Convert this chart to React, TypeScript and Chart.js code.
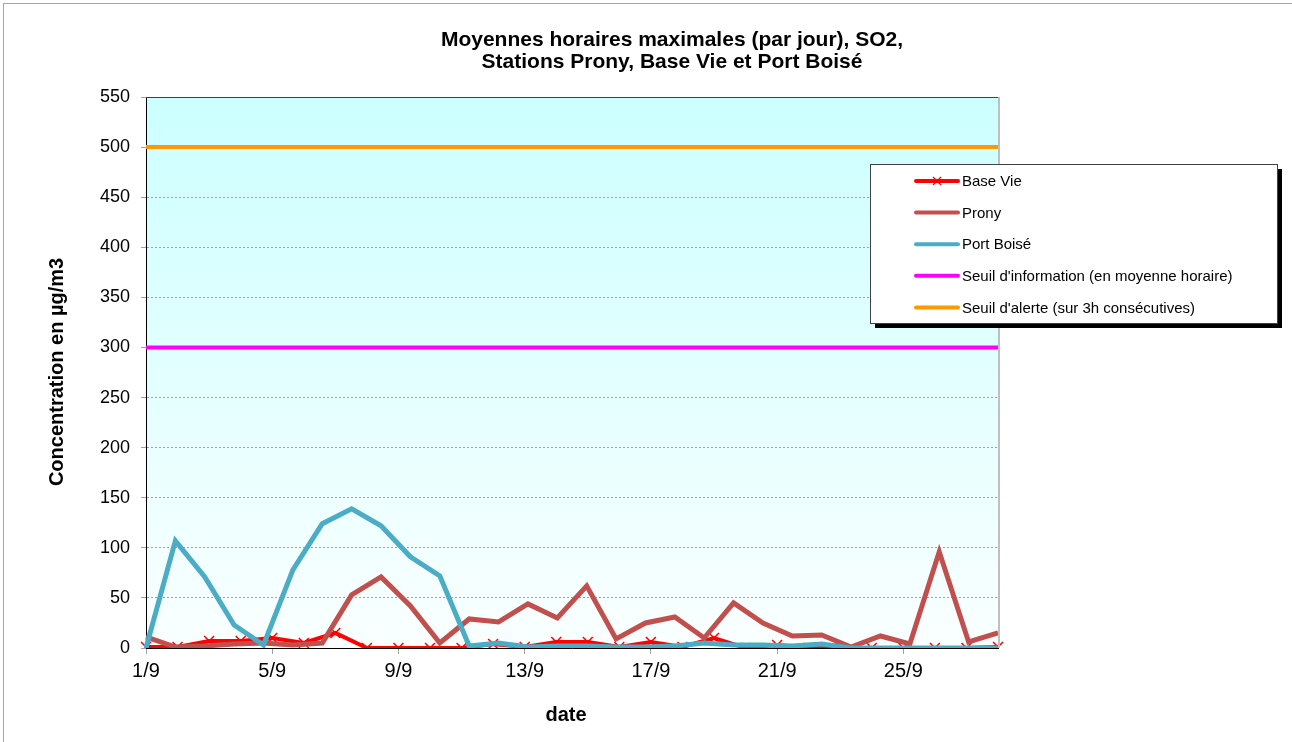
import React, { useEffect, useRef } from "react";
import { Chart, registerables } from "chart.js";

Chart.register(...registerables);

const dates = [
  "1/9", "2/9", "3/9", "4/9", "5/9", "6/9", "7/9", "8/9", "9/9", "10/9",
  "11/9", "12/9", "13/9", "14/9", "15/9", "16/9", "17/9", "18/9", "19/9", "20/9",
  "21/9", "22/9", "23/9", "24/9", "25/9", "26/9", "27/9", "28/9",
];
const dates30 = [
  "1/9", "2/9", "3/9", "4/9", "5/9", "6/9", "7/9", "8/9", "9/9", "10/9",
  "11/9", "12/9", "13/9", "14/9", "15/9", "16/9", "17/9", "18/9", "19/9", "20/9",
  "21/9", "22/9", "23/9", "24/9", "25/9", "26/9", "27/9", "28/9", "29/9", "30/9",
];

const baseVie = [1, 1, 7, 7, 10, 5, 15, 0, 0, 0, 0, 4, 1, 6, 6, 1, 6, 1, 10, 0, 3, 0, 0, 0, 0, 0, 0, 1];
const prony = [11, 1, 2, 4, 5, 3, 5, 53, 71, 42, 5, 29, 26, 44, 30, 62, 9, 25, 31, 10, 45, 25, 12, 13, 1, 12, 4, 96, 6, 15];
const portBoise = [0, 107, 71, 23, 3, 78, 124, 139, 122, 91, 72, 2, 5, 1, 2, 2, 1, 1, 2, 5, 3, 3, 2, 4, 0, 0, 0, 0, 0, 0];
const seuilInfo = [300, 300, 300, 300, 300, 300, 300, 300, 300, 300, 300, 300, 300, 300, 300, 300, 300, 300, 300, 300, 300, 300, 300, 300, 300, 300, 300, 300];
const seuilAlerte = [500, 500, 500, 500, 500, 500, 500, 500, 500, 500, 500, 500, 500, 500, 500, 500, 500, 500, 500, 500, 500, 500, 500, 500, 500, 500, 500, 500];

const titleLines = ["Moyennes horaires maximales (par jour), SO2,", "Stations Prony, Base Vie et Port Boisé"];
const yTitle = "Concentration en µg/m3";
const xTitle = "date";

const FONT = "'Liberation Sans', Arial, sans-serif";

const legendItems = [
  { label: "Base Vie", color: "#FF0000", marker: true },
  { label: "Prony", color: "#C0504D", marker: false },
  { label: "Port Boisé", color: "#4BACC6", marker: false },
  { label: "Seuil d'information (en moyenne horaire)", color: "#FF00FF", marker: false },
  { label: "Seuil d'alerte (sur 3h consécutives)", color: "#FF9900", marker: false },
];

const decorPlugin = {
  id: "decor",
  beforeDraw(chart: any) {
    const { ctx, chartArea } = chart;
    const { left, top, right, bottom } = chartArea;
    ctx.save();
    ctx.fillStyle = "#FFFFFF";
    ctx.fillRect(0, 0, chart.width, chart.height);
    ctx.strokeStyle = "#A6A6A6";
    ctx.lineWidth = 1;
    ctx.strokeRect(3.5, 3.5, chart.width + 20, chart.height + 20);
    const g = ctx.createLinearGradient(0, top, 0, bottom);
    g.addColorStop(0, "#CCFFFF");
    g.addColorStop(1, "#FAFFFF");
    ctx.fillStyle = g;
    ctx.fillRect(left, top, right - left, bottom - top);
    ctx.restore();
  },
  afterDraw(chart: any) {
    const { ctx, chartArea } = chart;
    const { left, top, right, bottom } = chartArea;
    ctx.save();
    ctx.lineWidth = 1;
    ctx.strokeStyle = "#404040";
    ctx.beginPath();
    ctx.moveTo(left, top + 0.5);
    ctx.lineTo(right, top + 0.5);
    ctx.stroke();
    ctx.strokeStyle = "#BFBFBF";
    ctx.lineWidth = 2;
    ctx.beginPath();
    ctx.moveTo(right + 1, top);
    ctx.lineTo(right + 1, bottom);
    ctx.stroke();

    // title
    ctx.fillStyle = "#000";
    ctx.textAlign = "center";
    ctx.textBaseline = "middle";
    ctx.font = `bold 21px ${FONT}`;
    ctx.fillText(titleLines[0], 672, 40);
    ctx.fillText(titleLines[1], 672, 62);

    // axis titles
    ctx.font = `bold 20px ${FONT}`;
    ctx.fillText(xTitle, 566, 715);
    ctx.save();
    ctx.translate(57, 372);
    ctx.rotate(-Math.PI / 2);
    ctx.fillText(yTitle, 0, 0);
    ctx.restore();

    // legend
    const lx = 870, ly = 164, lw = 407, lh = 159;
    ctx.fillStyle = "#000";
    ctx.fillRect(lx + 5, ly + 5, lw, lh);
    ctx.fillStyle = "#FFF";
    ctx.fillRect(lx, ly, lw, lh);
    ctx.strokeStyle = "#404040";
    ctx.lineWidth = 1;
    ctx.strokeRect(lx + 0.5, ly + 0.5, lw, lh);
    ctx.font = `15px ${FONT}`;
    ctx.textAlign = "left";
    ctx.textBaseline = "middle";
    legendItems.forEach((it, i) => {
      const cy = 181 + i * 31.6;
      ctx.strokeStyle = it.color;
      ctx.lineWidth = 4;
      ctx.lineCap = "round";
      ctx.beginPath();
      ctx.moveTo(916, cy);
      ctx.lineTo(958, cy);
      ctx.stroke();
      if (it.marker) {
        ctx.lineWidth = 1.2;
        ctx.lineCap = "butt";
        ctx.beginPath();
        ctx.moveTo(933, cy - 4);
        ctx.lineTo(941, cy + 4);
        ctx.moveTo(941, cy - 4);
        ctx.lineTo(933, cy + 4);
        ctx.stroke();
      }
      ctx.fillStyle = "#000";
      ctx.fillText(it.label, 962, cy + 1);
    });
    ctx.restore();
  },
};

export default function App() {
  const ref = useRef<HTMLCanvasElement | null>(null);

  useEffect(() => {
    document.body.style.margin = "0";
    if (!ref.current) return;
    const chart = new Chart(ref.current, {
      type: "line",
      data: {
        labels: dates,
        datasets: [
          {
            label: "Base Vie",
            data: baseVie,
            xAxisID: "x",
            borderColor: "#FF0000",
            backgroundColor: "#FF0000",
            borderWidth: 4,
            pointStyle: "crossRot",
            pointRadius: 7,
            pointBorderWidth: 1.5,
            pointBorderColor: "#FF0000",
            order: 5,
          },
          {
            label: "Prony",
            data: prony,
            xAxisID: "x2",
            borderColor: "#C0504D",
            borderWidth: 5,
            pointRadius: 0,
            order: 4,
          },
          {
            label: "Port Boisé",
            data: portBoise,
            xAxisID: "x2",
            borderColor: "#4BACC6",
            borderWidth: 5,
            pointRadius: 0,
            order: 3,
          },
          {
            label: "Seuil d'information (en moyenne horaire)",
            data: seuilInfo,
            xAxisID: "x",
            borderColor: "#FF00FF",
            borderWidth: 4,
            pointRadius: 0,
            order: 2,
          },
          {
            label: "Seuil d'alerte (sur 3h consécutives)",
            data: seuilAlerte,
            xAxisID: "x",
            borderColor: "#FF9900",
            borderWidth: 4,
            pointRadius: 0,
            order: 1,
          },
        ],
      },
      options: {
        responsive: false,
        animation: false,
        devicePixelRatio: 1,
        layout: { padding: { left: 0, top: 97, right: 294, bottom: 0 } },
        plugins: {
          legend: { display: false },
          title: { display: false },
          tooltip: { enabled: false },
        },
        elements: { line: { tension: 0 } },
        scales: {
          x: {
            type: "category",
            offset: false,
            afterFit: (s: any) => { s.height = 94; },
            border: { display: true, color: "#000", width: 1 },
            grid: {
              drawOnChartArea: false,
              drawTicks: true,
              tickLength: 6,
              tickColor: (c: any) => (c.index % 4 === 0 ? "#A0A0A0" : "rgba(0,0,0,0)"),
            },
            ticks: {
              autoSkip: false,
              maxRotation: 0,
              padding: 5,
              color: "#000",
              font: { family: FONT, size: 20 },
              callback: (_v: any, i: number) => (i % 4 === 0 ? dates[i] : ""),
            },
          },
          x2: {
            type: "category",
            labels: dates30,
            offset: false,
            display: false,
          },
          y: {
            min: 0,
            max: 550,
            afterFit: (s: any) => { s.width = 146; },
            border: { display: true, color: "#000", width: 1, dash: [2, 2] },
            grid: {
              color: (c: any) => (c.tick && (c.tick.value === 0 || c.tick.value === 550) ? "rgba(0,0,0,0)" : "#A0A0A0"),
              tickColor: "#A0A0A0",
              tickLength: 5,
              tickBorderDash: [],
              lineWidth: 1,
            },
            ticks: {
              stepSize: 50,
              padding: 11,
              color: "#000",
              font: { family: FONT, size: 18 },
            },
          },
        },
      },
      plugins: [decorPlugin],
    } as any);
    return () => chart.destroy();
  }, []);

  return (
    <div style={{ position: "absolute", left: 0, top: 0, width: 1292, height: 742 }}>
      <canvas ref={ref} width={1292} height={742} style={{ width: 1292, height: 742, display: "block" }} />
    </div>
  );
}
